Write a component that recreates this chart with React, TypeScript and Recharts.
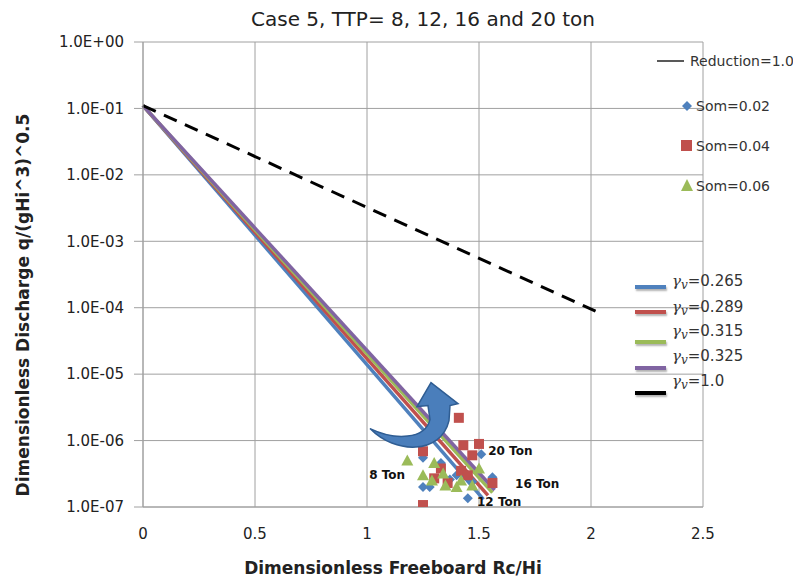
import React from 'react';
import {
    ComposedChart,
    XAxis,
    YAxis,
    CartesianGrid,
    Line,
    Scatter,
    ReferenceDot
} from 'recharts';

// axis ticks
const xTicks = [0, 0.5, 1, 1.5, 2, 2.5];
const yTicks = [1e-7, 1e-6, 1e-5, 1e-4, 1e-3, 1e-2, 1e-1, 1];

// measured points (Rc/Hi, q/(gHi^3)^0.5)
const som002 = [
    { x: 1.25, y: 5.5e-7 }, { x: 1.33, y: 4.6e-7 }, { x: 1.51, y: 6.2e-7 },
    { x: 1.25, y: 2.0e-7 }, { x: 1.28, y: 2.0e-7 }, { x: 1.56, y: 2.8e-7 },
    { x: 1.45, y: 1.35e-7 }, { x: 1.40, y: 3.0e-7 }, { x: 1.47, y: 2.4e-7 },
    { x: 1.37, y: 2.6e-7 }
];
const som004 = [
    { x: 1.41, y: 2.2e-6 }, { x: 1.43, y: 8.5e-7 }, { x: 1.50, y: 8.9e-7 },
    { x: 1.25, y: 6.9e-7 }, { x: 1.47, y: 6.0e-7 }, { x: 1.33, y: 3.8e-7 },
    { x: 1.30, y: 2.7e-7 }, { x: 1.36, y: 2.3e-7 }, { x: 1.56, y: 2.3e-7 },
    { x: 1.25, y: 1.07e-7 }, { x: 1.42, y: 3.5e-7 }, { x: 1.45, y: 3.0e-7 }
];
const som006 = [
    { x: 1.18, y: 5.0e-7 }, { x: 1.30, y: 4.6e-7 }, { x: 1.25, y: 3.0e-7 },
    { x: 1.34, y: 3.2e-7 }, { x: 1.35, y: 2.1e-7 }, { x: 1.42, y: 2.5e-7 },
    { x: 1.40, y: 2.0e-7 }, { x: 1.50, y: 3.8e-7 }, { x: 1.29, y: 2.5e-7 },
    { x: 1.47, y: 2.1e-7 }
];

// prediction lines for each reduction factor
const gamma0265 = [{ x: 0, y: 0.11 }, { x: 1.52, y: 1.3e-7 }];
const gamma0289 = [{ x: 0, y: 0.11 }, { x: 1.54, y: 1.5e-7 }];
const gamma0315 = [{ x: 0, y: 0.11 }, { x: 1.56, y: 1.65e-7 }];
const gamma0325 = [{ x: 0, y: 0.11 }, { x: 1.57, y: 1.8e-7 }];
const gamma10 = [{ x: 0, y: 0.11 }, { x: 2.05, y: 8e-5 }];

const gammaNames = ['0.265', '0.289', '0.315', '0.325', '1.0'];
const gammaColors = ['#4f81bd', '#c0504d', '#9bbb59', '#8064a2', '#000000'];
const somNames = ['Som=0.02', 'Som=0.04', 'Som=0.06'];

// annotations
const tonLabels = [
    { x: 1.09, y: 3.0e-7, text: '8 Ton' },
    { x: 1.64, y: 6.9e-7, text: '20 Ton' },
    { x: 1.76, y: 2.2e-7, text: '16 Ton' },
    { x: 1.59, y: 1.18e-7, text: '12 Ton' }
];
const arrowAnchor = { x: 1.25, y: 1e-6 };

const FONT = '"DejaVu Sans", sans-serif';

const fmtExp = (v: number) => {
    const e = Math.round(Math.log10(v));
    return `1.0E${e < 0 ? '-' : '+'}${String(Math.abs(e)).padStart(2, '0')}`;
};

const Diamond = ({ cx, cy }: any) => (
    <polygon points={`${cx},${cy - 5} ${cx + 5},${cy} ${cx},${cy + 5} ${cx - 5},${cy}`} fill="#4f81bd" />
);
const Square = ({ cx, cy }: any) => (
    <rect x={cx - 5} y={cy - 5} width={10} height={10} fill="#c0504d" />
);
const Triangle = ({ cx, cy }: any) => (
    <polygon points={`${cx},${cy - 6} ${cx + 6},${cy + 5} ${cx - 6},${cy + 5}`} fill="#9bbb59" />
);

const CurvedArrow = ({ cx, cy }: any) => {
    const p = (dx: number, dy: number) => `${cx + dx} ${cy + dy}`;
    const d = `M ${p(-53, -12)} C ${p(-28, 14)} ${p(18, 14)} ${p(26, -20)} L ${p(27, -35)} L ${p(35, -37)} L ${p(8, -58)} L ${p(-6, -34)} L ${p(5, -35)} L ${p(7, -21)} C ${p(2, -1)} ${p(-28, 0)} ${p(-53, -12)} Z`;
    return <path d={d} fill="#4a7ebb" stroke="#2f5d93" strokeWidth={1.5} />;
};

const TonText = ({ cx, cy, text }: any) => (
    <text x={cx} y={cy} textAnchor="middle" dominantBaseline="central"
        fontFamily={FONT} fontWeight="bold" fontSize={12} fill="#111">{text}</text>
);

const legendText: React.CSSProperties = {
    position: 'absolute', fontFamily: FONT, fontSize: 14, color: '#333', whiteSpace: 'nowrap', lineHeight: '16px'
};

const App: React.FC = () => {
    const gammaData = [gamma0265, gamma0289, gamma0315, gamma0325];
    return (
        <div style={{ position: 'absolute', left: 0, top: 0, width: 793, height: 581, background: '#fff' }}>
            <ComposedChart width={793} height={581} margin={{ top: 42, right: 90, bottom: 44, left: 0 }}>
                <CartesianGrid stroke="#a0a0a0" />
                <XAxis
                    type="number"
                    dataKey="x"
                    domain={[0, 2.5]}
                    ticks={xTicks}
                    interval={0}
                    tickLine={false}
                    tickSize={0}
                    tickMargin={21}
                    height={30}
                    stroke="#a0a0a0"
                    tick={{ fill: '#222', fontSize: 15, fontFamily: FONT }}
                    tickFormatter={(v) => String(v)}
                />
                <YAxis
                    type="number"
                    dataKey="y"
                    scale="log"
                    domain={[1e-7, 1]}
                    ticks={yTicks}
                    interval={0}
                    allowDataOverflow
                    width={143}
                    tickSize={9}
                    tickMargin={10}
                    stroke="#a0a0a0"
                    tick={{ fill: '#222', fontSize: 15, fontFamily: FONT }}
                    tickFormatter={fmtExp}
                />
                <Scatter data={som002} shape={<Diamond />} isAnimationActive={false} />
                <Scatter data={som004} shape={<Square />} isAnimationActive={false} />
                <Scatter data={som006} shape={<Triangle />} isAnimationActive={false} />
                {gammaData.map((d, i) => (
                    <Line
                        key={gammaNames[i]}
                        data={d}
                        dataKey="y"
                        type="linear"
                        stroke={gammaColors[i]}
                        strokeWidth={3.5}
                        dot={false}
                        activeDot={false}
                        isAnimationActive={false}
                    />
                ))}
                <Line
                    data={gamma10}
                    dataKey="y"
                    type="linear"
                    stroke="#000"
                    strokeWidth={3}
                    strokeDasharray="14 9"
                    dot={false}
                    activeDot={false}
                    isAnimationActive={false}
                />
                {tonLabels.map(t => (
                    <ReferenceDot key={t.text} x={t.x} y={t.y} r={0} ifOverflow="visible"
                        shape={(props: any) => <TonText {...props} text={t.text} />} />
                ))}
                <ReferenceDot x={arrowAnchor.x} y={arrowAnchor.y} r={0} ifOverflow="visible"
                    shape={(props: any) => <CurvedArrow {...props} />} />
            </ComposedChart>

            {/* title and axis titles */}
            <div style={{ position: 'absolute', left: 423, top: 19, transform: 'translate(-50%, -50%)', fontFamily: FONT, fontSize: 20, color: '#222', whiteSpace: 'nowrap' }}>
                Case 5, TTP= 8, 12, 16 and 20 ton
            </div>
            <div style={{ position: 'absolute', left: 23, top: 305, transform: 'translate(-50%, -50%) rotate(-90deg)', fontFamily: FONT, fontWeight: 'bold', fontSize: 17, color: '#222', whiteSpace: 'nowrap' }}>
                Dimensionless Discharge q/(gHi^3)^0.5
            </div>
            <div style={{ position: 'absolute', left: 393, top: 568, transform: 'translate(-50%, -50%)', fontFamily: FONT, fontWeight: 'bold', fontSize: 17, color: '#222', whiteSpace: 'nowrap' }}>
                Dimensionless Freeboard Rc/Hi
            </div>

            {/* upper legend */}
            <div style={{ position: 'absolute', left: 657, top: 60, width: 27, height: 2, background: '#595959' }} />
            <div style={{ ...legendText, left: 690, top: 53 }}>Reduction=1.0</div>
            <svg style={{ position: 'absolute', left: 680, top: 98 }} width={14} height={96}>
                <polygon points="7,3 12,8 7,13 2,8" fill="#4f81bd" />
                <rect x={1} y={42} width={11} height={11} fill="#c0504d" />
                <polygon points="7,81 13,93 1,93" fill="#9bbb59" />
            </svg>
            {somNames.map((n, i) => (
                <div key={n} style={{ ...legendText, left: 696, top: 98 + i * 40 }}>{n}</div>
            ))}

            {/* lower legend */}
            {gammaNames.map((n, i) => (
                <React.Fragment key={n}>
                    <div style={{
                        position: 'absolute', left: 635, top: [285, 310, 340, 366, 391][i], width: 31, height: 4,
                        background: gammaColors[i], boxShadow: '1px 2px 2px rgba(0,0,0,0.3)'
                    }} />
                    <div style={{ ...legendText, fontSize: 15, left: 672, top: [273, 299, 323, 348, 373][i] }}>
                        <span style={{ fontFamily: '"DejaVu Serif", serif', fontStyle: 'italic' }}>γ</span>
                        <span style={{ fontFamily: '"DejaVu Serif", serif', fontStyle: 'italic', fontSize: 12, position: 'relative', top: 3 }}>v</span>
                        ={n}
                    </div>
                </React.Fragment>
            ))}
        </div>
    );
};

export default App;
